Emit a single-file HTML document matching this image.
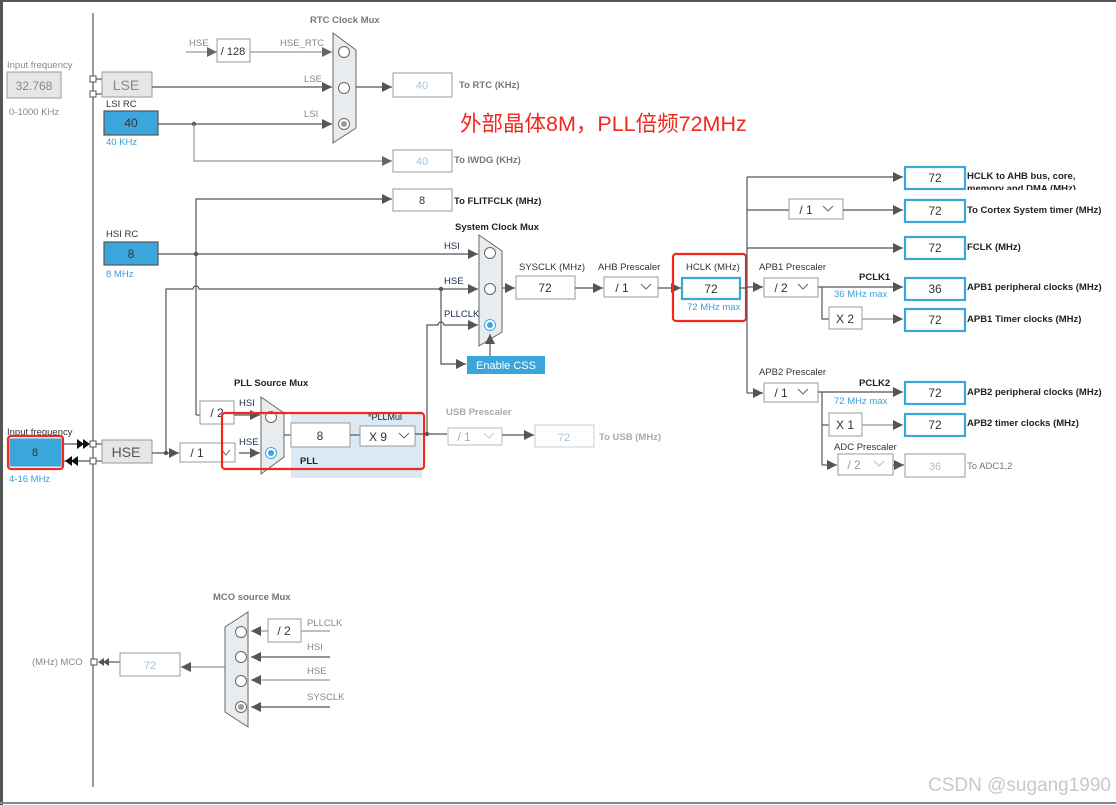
<!DOCTYPE html>
<html><head><meta charset="utf-8"><style>
html,body{margin:0;padding:0;background:#fff;}
svg{display:block;font-family:"Liberation Sans",Arial,sans-serif;}
.l{stroke:#555;stroke-width:1.2;fill:none}
.lg{stroke:#999;stroke-width:1.2;fill:none}
.b{fill:#fff;stroke:#999;stroke-width:1}
.bb{fill:#fff;stroke:#3ba6db;stroke-width:2.2}
.blu{fill:#3ba6db;stroke:#555;stroke-width:1.2}
.gry{fill:#e6e6e6;stroke:#999;stroke-width:1}
.mux{fill:#e8ecef;stroke:#666;stroke-width:1}
.c{fill:#fff;stroke:#666;stroke-width:1}
.t{font-size:9.5px;fill:#333}
.tg{font-size:9.5px;fill:#888}
.tb{font-size:9.5px;fill:#222;font-weight:bold}
.tgb{font-size:9.5px;fill:#777;font-weight:bold}
.tbl{font-size:9.5px;fill:#3aa0d8}
.v{font-size:12px;fill:#333;text-anchor:middle}
.vl{font-size:12px;fill:#aac0d6;text-anchor:middle}
.red{fill:none;stroke:#f0281e;stroke-width:2.2}
</style></head><body>
<svg width="1116" height="805" viewBox="0 0 1116 805" xmlns="http://www.w3.org/2000/svg">
<defs>
<marker id="a" viewBox="0 0 10 10" refX="10" refY="5" markerWidth="10" markerHeight="10" markerUnits="userSpaceOnUse" orient="auto"><path d="M0,0 L10,5 L0,10 z" fill="#555"/></marker>
<marker id="ag" viewBox="0 0 10 10" refX="10" refY="5" markerWidth="10" markerHeight="10" markerUnits="userSpaceOnUse" orient="auto"><path d="M0,0 L10,5 L0,10 z" fill="#666"/></marker>
</defs>
<rect x="0" y="0" width="1116" height="2" fill="#555"/>
<rect x="0" y="0" width="3" height="805" fill="#555"/>
<rect x="0" y="802" width="1116" height="2" fill="#888"/>
<line x1="93" y1="13" x2="93" y2="787" class="l"/>

<text x="7" y="68" class="tg">Input frequency</text>
<rect x="7" y="72" width="54" height="26" class="gry"/>
<text x="34" y="90" class="v" style="fill:#888">32.768</text>
<text x="9" y="115" class="tg">0-1000 KHz</text>
<rect x="90" y="76" width="6" height="6" fill="#fff" stroke="#555"/>
<rect x="90" y="91" width="6" height="6" fill="#fff" stroke="#555"/>
<line x1="96" y1="79" x2="102" y2="79" class="l"/><line x1="96" y1="94" x2="102" y2="94" class="l"/>
<rect x="102" y="72" width="50" height="25" class="gry"/>
<text x="126" y="90" style="font-size:14px;fill:#888;text-anchor:middle">LSE</text>

<text x="106" y="107" class="t">LSI RC</text>
<rect x="104" y="111" width="54" height="24" class="blu"/>
<text x="131" y="127" class="v">40</text>
<text x="106" y="145" class="tbl">40 KHz</text>

<text x="310" y="23" class="tgb">RTC Clock Mux</text>
<text x="189" y="46" class="tg">HSE</text>
<line x1="186" y1="52" x2="217" y2="52" class="lg" marker-end="url(#ag)"/>
<rect x="217" y="39" width="33" height="23" class="b"/>
<text x="233" y="55" class="v" style="font-size:11px">/ 128</text>
<text x="280" y="46" class="tg">HSE_RTC</text>
<line x1="250" y1="52" x2="332" y2="52" class="lg" marker-end="url(#ag)"/>
<text x="304" y="82" class="tg">LSE</text>
<line x1="152" y1="87" x2="332" y2="87" class="l" marker-end="url(#a)"/>
<text x="304" y="117" class="tg">LSI</text>
<line x1="158" y1="124" x2="332" y2="124" class="l" marker-end="url(#a)"/>
<circle cx="194" cy="124" r="2.2" fill="#555"/>
<polygon points="333,33 356,50 356,128 333,143" class="mux"/>
<circle cx="344" cy="52" r="5.5" class="c"/>
<circle cx="344" cy="88" r="5.5" class="c"/>
<circle cx="344" cy="124" r="5.5" class="c"/><circle cx="344" cy="124" r="3" fill="#999"/>
<line x1="356" y1="87" x2="392" y2="87" class="l" marker-end="url(#a)"/>
<rect x="393" y="73" width="59" height="24" class="b"/>
<text x="422" y="89" class="vl" style="font-size:11px">40</text>
<text x="459" y="88" class="tgb">To RTC (KHz)</text>
<polyline points="194,124 194,161 392,161" class="lg" marker-end="url(#ag)"/>
<rect x="393" y="150" width="59" height="22" class="b"/>
<text x="422" y="165" class="vl" style="font-size:11px">40</text>
<text x="454" y="163" class="tgb">To IWDG (KHz)</text>

<text x="460" y="131" style="font-size:21.5px;fill:#f0281e;font-family:'Liberation Sans','Noto Sans CJK SC',sans-serif">外部晶体8M，PLL倍频72MHz</text>

<polyline points="196,415 196,199 392,199" class="l" marker-end="url(#a)"/>
<rect x="393" y="189" width="59" height="22" class="b"/>
<text x="422" y="204" class="v" style="font-size:11px">8</text>
<text x="454" y="204" class="tb">To FLITFCLK (MHz)</text>

<text x="106" y="237" class="t">HSI RC</text>
<rect x="104" y="242" width="54" height="23" class="blu"/>
<text x="131" y="258" class="v">8</text>
<text x="106" y="277" class="tbl">8 MHz</text>
<line x1="158" y1="254" x2="478" y2="254" class="l" marker-end="url(#a)"/>
<circle cx="196" cy="254" r="2.2" fill="#555"/>

<text x="455" y="230" class="tb">System Clock Mux</text>
<text x="444" y="249" class="tb" style="font-weight:normal;fill:#1a2a4a">HSI</text>
<text x="444" y="284" class="tb" style="font-weight:normal;fill:#1a2a4a">HSE</text>
<text x="444" y="317" class="tb" style="font-weight:normal;fill:#1a2a4a">PLLCLK</text>
<path d="M166,453 L166,289 L193,289 A3,3 0 0 1 199,289 L478,289" class="l" marker-end="url(#a)"/>
<circle cx="441" cy="289" r="2.2" fill="#555"/>
<polyline points="441,289 441,364 466,364" class="l" marker-end="url(#a)"/>
<path d="M427,434 L427,325 L438,325 A3,3 0 0 1 444,325 L478,325" class="l" marker-end="url(#a)"/>
<polygon points="479,235 502,251 502,332 479,346" class="mux"/>
<circle cx="490" cy="253" r="5.5" class="c"/>
<circle cx="490" cy="289" r="5.5" class="c"/>
<circle cx="490" cy="325" r="5.5" fill="#fff" stroke="#3ba6db"/><circle cx="490" cy="325" r="3" fill="#3ba6db"/>
<rect x="467" y="356" width="78" height="18" fill="#3ba6db"/>
<text x="506" y="369" style="font-size:11px;fill:#fff;text-anchor:middle">Enable CSS</text>
<line x1="490" y1="356" x2="490" y2="334" class="l" marker-end="url(#a)"/>

<line x1="502" y1="288" x2="515" y2="288" class="l" marker-end="url(#a)"/>
<text x="519" y="270" class="t">SYSCLK (MHz)</text>
<rect x="516" y="276" width="59" height="23" class="b"/>
<text x="545" y="292" class="v">72</text>
<line x1="575" y1="288" x2="603" y2="288" class="l" marker-end="url(#a)"/>
<text x="598" y="270" class="t">AHB Prescaler</text>
<rect x="604" y="277" width="54" height="20" class="b"/>
<text x="622" y="292" class="v">/ 1</text>
<polyline points="641,284 646,289 651,284" fill="none" stroke="#666"/>
<line x1="658" y1="288" x2="681" y2="288" class="l" marker-end="url(#a)"/>
<text x="686" y="270" class="t">HCLK (MHz)</text>
<rect x="682" y="278" width="58" height="21" class="bb"/>
<text x="711" y="293" class="v">72</text>
<text x="687" y="310" class="tbl">72 MHz max</text>
<rect x="673" y="254" width="73" height="67" rx="3" class="red"/>

<polyline points="740,288 747,288" class="l"/>
<line x1="747" y1="177" x2="747" y2="393" class="l"/>
<line x1="747" y1="177" x2="903" y2="177" class="l" marker-end="url(#a)"/>
<rect x="905" y="167" width="60" height="22" class="bb"/><text x="935" y="182" class="v">72</text>
<text x="967" y="179" class="tb">HCLK to AHB bus, core,</text>
<svg x="967" y="182" width="140" height="8" overflow="hidden"><text x="0" y="9.5" class="tb">memory and DMA (MHz)</text></svg>
<line x1="747" y1="210" x2="789" y2="210" class="l"/>
<rect x="789" y="199" width="54" height="20" class="b"/><text x="806" y="214" class="v">/ 1</text>
<polyline points="823,206 828,211 833,206" fill="none" stroke="#666"/>
<line x1="843" y1="210" x2="903" y2="210" class="l" marker-end="url(#a)"/>
<rect x="905" y="200" width="60" height="22" class="bb"/><text x="935" y="215" class="v">72</text>
<text x="967" y="213" class="tb">To Cortex System timer (MHz)</text>
<line x1="747" y1="248" x2="903" y2="248" class="l" marker-end="url(#a)"/>
<rect x="905" y="237" width="60" height="22" class="bb"/><text x="935" y="252" class="v">72</text>
<text x="967" y="250" class="tb">FCLK (MHz)</text>

<text x="759" y="270" class="t">APB1 Prescaler</text>
<line x1="747" y1="287" x2="763" y2="287" class="l" marker-end="url(#a)"/>
<rect x="764" y="278" width="54" height="19" class="b"/><text x="781" y="292" class="v">/ 2</text>
<polyline points="798,284 803,289 808,284" fill="none" stroke="#666"/>
<line x1="818" y1="287" x2="903" y2="287" class="l" marker-end="url(#a)"/>
<text x="859" y="280" class="tb">PCLK1</text>
<text x="834" y="297" class="tbl">36 MHz max</text>
<rect x="905" y="278" width="60" height="22" class="bb"/><text x="935" y="293" class="v">36</text>
<text x="967" y="290" class="tb">APB1 peripheral clocks (MHz)</text>
<polyline points="822,287 822,319 829,319" class="l"/>
<rect x="829" y="307" width="33" height="22" class="b"/><text x="845" y="323" class="v">X 2</text>
<line x1="862" y1="319" x2="903" y2="319" class="lg" marker-end="url(#a)"/>
<rect x="905" y="309" width="60" height="22" class="bb"/><text x="935" y="324" class="v">72</text>
<text x="967" y="322" class="tb">APB1 Timer clocks (MHz)</text>

<text x="759" y="375" class="t">APB2 Prescaler</text>
<line x1="747" y1="393" x2="763" y2="393" class="l" marker-end="url(#a)"/>
<rect x="764" y="383" width="54" height="19" class="b"/><text x="781" y="397" class="v">/ 1</text>
<polyline points="798,389 803,394 808,389" fill="none" stroke="#666"/>
<line x1="818" y1="392" x2="903" y2="392" class="l" marker-end="url(#a)"/>
<text x="859" y="386" class="tb">PCLK2</text>
<text x="834" y="404" class="tbl">72 MHz max</text>
<rect x="905" y="382" width="60" height="22" class="bb"/><text x="935" y="397" class="v">72</text>
<text x="967" y="395" class="tb">APB2 peripheral clocks (MHz)</text>
<line x1="822" y1="392" x2="822" y2="465" class="l"/>
<line x1="822" y1="425" x2="829" y2="425" class="l"/>
<rect x="829" y="413" width="33" height="23" class="b"/><text x="845" y="429" class="v">X 1</text>
<line x1="862" y1="425" x2="903" y2="425" class="lg" marker-end="url(#a)"/>
<rect x="905" y="414" width="60" height="22" class="bb"/><text x="935" y="429" class="v">72</text>
<text x="967" y="426" class="tb">APB2 timer clocks (MHz)</text>
<text x="834" y="450" class="t">ADC Prescaler</text>
<line x1="822" y1="465" x2="837" y2="465" class="l" marker-end="url(#a)"/>
<rect x="838" y="454" width="55" height="21" class="b"/><text x="854" y="469" class="vl" style="fill:#999">/ 2</text>
<polyline points="874,461 879,466 884,461" fill="none" stroke="#bbb"/>
<line x1="893" y1="465" x2="904" y2="465" class="l" marker-end="url(#a)"/>
<rect x="905" y="454" width="60" height="23" class="b"/><text x="935" y="470" class="vl" style="font-size:11px">36</text>
<text x="967" y="469" class="tgb" style="font-weight:normal">To ADC1,2</text>

<text x="7" y="435" class="t">Input frequency</text>
<rect x="10" y="439" width="51" height="27" class="blu" style="stroke:#3ba6db"/>
<text x="35" y="456" class="v" style="font-size:11px">8</text>
<rect x="8" y="436" width="55" height="33" rx="3" class="red"/>
<text x="9" y="482" class="tbl">4-16 MHz</text>
<line x1="64" y1="444" x2="84" y2="444" class="l"/>
<path d="M77,439 L84,444 L77,449 z M83,439 L90,444 L83,449 z" fill="#111"/>
<line x1="64" y1="461" x2="90" y2="461" class="l"/>
<path d="M72,456 L65,461 L72,466 z M78,456 L71,461 L78,466 z" fill="#111"/>
<rect x="90" y="441" width="6" height="6" fill="#fff" stroke="#555"/>
<rect x="90" y="458" width="6" height="6" fill="#fff" stroke="#555"/>
<line x1="96" y1="444" x2="102" y2="444" class="l"/><line x1="96" y1="461" x2="102" y2="461" class="l"/>
<rect x="102" y="440" width="50" height="23" class="gry"/>
<text x="126" y="457" style="font-size:14px;fill:#555;text-anchor:middle">HSE</text>
<line x1="152" y1="453" x2="179" y2="453" class="l" marker-end="url(#a)"/>
<circle cx="166" cy="453" r="2.2" fill="#555"/>
<rect x="180" y="443" width="55" height="19" class="b"/><text x="197" y="457" class="v">/ 1</text>
<polyline points="222,450 226,455 230,450" fill="none" stroke="#666"/>

<rect x="291" y="413" width="131" height="65" fill="#dbe9f5"/>
<text x="234" y="386" class="tb">PLL Source Mux</text>
<line x1="196" y1="415" x2="200" y2="415" class="l"/>
<rect x="200" y="401" width="34" height="23" class="b"/><text x="217" y="417" class="v">/ 2</text>
<text x="239" y="406" class="tb" style="font-weight:normal;fill:#1a2a4a">HSI</text>
<line x1="234" y1="415" x2="260" y2="415" class="l" marker-end="url(#a)"/>
<text x="239" y="445" class="tb" style="font-weight:normal;fill:#1a2a4a">HSE</text>
<line x1="239" y1="453" x2="260" y2="453" class="l" marker-end="url(#a)"/>
<polygon points="261,397 284,413 284,457 261,474" class="mux"/>
<circle cx="271" cy="417" r="5.5" class="c"/>
<circle cx="271" cy="453" r="5.5" fill="#fff" stroke="#3ba6db"/><circle cx="271" cy="453" r="3" fill="#3ba6db"/>
<line x1="284" y1="435" x2="291" y2="435" class="l"/>
<rect x="291" y="423" width="59" height="24" class="b"/><text x="320" y="440" class="v">8</text>
<line x1="350" y1="435" x2="360" y2="435" class="l"/>
<text x="368" y="420" class="tb" style="font-weight:normal;font-size:9px">*PLLMul</text>
<rect x="360" y="426" width="55" height="20" class="b"/><text x="378" y="441" class="v">X 9</text>
<polyline points="399,433 404,438 409,433" fill="none" stroke="#666"/>
<text x="300" y="464" class="tb">PLL</text>
<rect x="222" y="413" width="202" height="56" rx="3" class="red"/>
<line x1="415" y1="434" x2="447" y2="434" class="l"/>
<circle cx="427" cy="434" r="2.2" fill="#555"/>
<text x="446" y="415" class="tgb" style="fill:#aaa">USB Prescaler</text>
<rect x="448" y="428" width="54" height="17" class="b" style="stroke:#bbb"/><text x="464" y="441" class="vl" style="fill:#aaa">/ 1</text>
<polyline points="484,433 489,438 494,433" fill="none" stroke="#ccc"/>
<line x1="502" y1="435" x2="534" y2="435" class="l" marker-end="url(#a)"/>
<rect x="535" y="425" width="59" height="22" class="b" style="stroke:#ccc"/><text x="564" y="441" class="vl" style="font-size:11px">72</text>
<text x="599" y="440" class="tgb" style="fill:#aaa">To USB (MHz)</text>

<text x="213" y="600" class="tgb">MCO source Mux</text>
<text x="32" y="665" class="tg">(MHz) MCO</text>
<rect x="91" y="659" width="6" height="6" fill="#fff" stroke="#555"/>
<path d="M104,658 L98,662 L104,666 z M109,658 L103,662 L109,666 z" fill="#555"/>
<line x1="104" y1="662" x2="120" y2="662" class="l"/>
<rect x="120" y="653" width="60" height="23" class="b"/><text x="150" y="669" class="vl" style="font-size:11px">72</text>
<line x1="225" y1="667" x2="181" y2="667" class="lg" marker-end="url(#a)"/>
<polygon points="225,627 248,612 248,727 225,712" class="mux"/>
<circle cx="241" cy="632" r="5.5" class="c"/>
<circle cx="241" cy="657" r="5.5" class="c"/>
<circle cx="241" cy="681" r="5.5" class="c"/>
<circle cx="241" cy="707" r="5.5" class="c"/><circle cx="241" cy="707" r="3" fill="#999"/>
<rect x="268" y="619" width="33" height="23" class="b"/><text x="284" y="635" class="v">/ 2</text>
<line x1="330" y1="631" x2="301" y2="631" class="lg"/>
<line x1="268" y1="631" x2="251" y2="631" class="lg" marker-end="url(#a)"/>
<text x="307" y="626" class="tg">PLLCLK</text>
<text x="307" y="650" class="tg">HSI</text>
<line x1="330" y1="657" x2="251" y2="657" class="l" marker-end="url(#a)"/>
<text x="307" y="674" class="tg">HSE</text>
<line x1="330" y1="680" x2="251" y2="680" class="lg" marker-end="url(#a)"/>
<text x="307" y="700" class="tg">SYSCLK</text>
<line x1="330" y1="707" x2="251" y2="707" class="l" marker-end="url(#a)"/>

<text x="1111" y="791" style="font-size:19px;fill:#c8c8c8;text-anchor:end">CSDN @sugang1990</text>
</svg>
</body></html>
